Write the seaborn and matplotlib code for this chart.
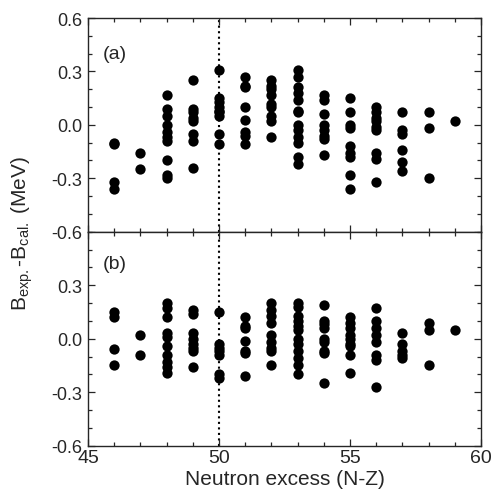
import pandas as pd
import matplotlib
matplotlib.use("Agg")
import matplotlib.pyplot as plt
import seaborn as sns
from matplotlib.ticker import MultipleLocator, FuncFormatter

# panel (a): B_exp - B_cal per neutron excess
dev_a = {
    46: [-0.10, -0.11, -0.32, -0.36],
    47: [-0.16, -0.25],
    48: [0.17, 0.09, 0.05, 0.00, -0.04, -0.07, -0.09, -0.20, -0.28, -0.30],
    49: [0.25, 0.09, 0.07, 0.04, 0.02, -0.05, -0.09, -0.24],
    50: [0.31, 0.15, 0.13, 0.10, 0.08, 0.07, 0.05, -0.05, -0.11],
    51: [0.27, 0.22, 0.21, 0.10, 0.03, -0.04, -0.06, -0.11],
    52: [0.25, 0.22, 0.20, 0.17, 0.12, 0.10, 0.05, 0.02, -0.07],
    53: [0.31, 0.27, 0.21, 0.18, 0.14, 0.08, 0.07, 0.00, -0.03, -0.07, -0.10, -0.18, -0.22],
    54: [0.17, 0.14, 0.06, 0.00, -0.03, -0.06, -0.08, -0.17],
    55: [0.15, 0.07, 0.00, -0.02, -0.12, -0.16, -0.18, -0.28, -0.36],
    56: [0.10, 0.07, 0.04, 0.02, -0.01, -0.03, -0.16, -0.19, -0.32],
    57: [0.07, -0.03, -0.05, -0.14, -0.21, -0.26],
    58: [0.07, -0.02, -0.30],
    59: [0.02],
}

# panel (b)
dev_b = {
    46: [0.15, 0.12, -0.06, -0.15],
    47: [0.02, -0.09],
    48: [0.20, 0.17, 0.12, 0.03, 0.01, -0.04, -0.09, -0.13, -0.16, -0.19],
    49: [0.16, 0.14, 0.03, 0.00, -0.03, -0.05, -0.07, -0.16],
    50: [0.15, -0.03, -0.05, -0.07, -0.09, -0.20, -0.22],
    51: [0.12, 0.07, 0.06, -0.01, -0.07, -0.08, -0.21],
    52: [0.20, 0.16, 0.13, 0.09, 0.02, -0.02, -0.05, -0.07, -0.15],
    53: [0.20, 0.18, 0.13, 0.10, 0.07, 0.05, 0.00, -0.03, -0.07, -0.11, -0.15, -0.20],
    54: [0.19, 0.10, 0.08, 0.06, 0.00, -0.02, -0.07, -0.08, -0.25],
    55: [0.12, 0.09, 0.06, 0.02, 0.00, -0.03, -0.04, -0.09, -0.19],
    56: [0.17, 0.10, 0.06, 0.02, -0.02, -0.09, -0.12, -0.27],
    57: [0.03, -0.03, -0.07, -0.09, -0.11],
    58: [0.09, 0.05, -0.15],
    59: [0.05],
}

panel_labels = ["(a)", "(b)"]
label_y = [0.835, 0.85]


def to_frame(d):
    rows = [(k, v) for k, vals in d.items() for v in vals]
    return pd.DataFrame(rows, columns=["nz", "dev"])


sns.set_style("ticks")
plt.rcParams["font.family"] = ["Liberation Sans", "DejaVu Sans"]
plt.rcParams["mathtext.fontset"] = "custom"
plt.rcParams["mathtext.rm"] = "Liberation Sans"
plt.rcParams["mathtext.it"] = "Liberation Sans"
plt.rcParams["mathtext.default"] = "regular"

fig = plt.figure(figsize=(4.93, 5.02), dpi=100)
ax_a = fig.add_axes([0.1785, 0.5365, 0.7972, 0.4255])
ax_b = fig.add_axes([0.1785, 0.1100, 0.7972, 0.4265], sharex=ax_a)

for ax, d, lab, ly in zip([ax_a, ax_b], [dev_a, dev_b], panel_labels, label_y):
    df = to_frame(d)
    sns.scatterplot(data=df, x="nz", y="dev", ax=ax, color="black",
                    s=55, edgecolor="black", linewidth=0, legend=False)
    ax.axvline(50, color="black", ls=":", lw=1.5, zorder=0)
    ax.set_xlim(45, 60)
    ax.set_ylim(-0.6, 0.6)
    ax.xaxis.set_major_locator(MultipleLocator(5))
    ax.xaxis.set_minor_locator(MultipleLocator(1))
    ax.yaxis.set_major_locator(MultipleLocator(0.3))
    ax.yaxis.set_minor_locator(MultipleLocator(0.1))
    ax.tick_params(which="both", direction="in", top=True, right=True, width=0.9)
    ax.tick_params(axis="y", labelsize=13, pad=4)
    ax.tick_params(axis="x", labelsize=14, pad=2.5)
    ax.tick_params(which="major", length=5)
    ax.tick_params(which="minor", length=3)
    for sp in ax.spines.values():
        sp.set_linewidth(1.0)
    ax.set_xlabel("")
    ax.set_ylabel("")
    ax.text(0.038, ly, lab, transform=ax.transAxes, fontsize=14, va="center")
    ax.yaxis.set_major_formatter(FuncFormatter(lambda v, p: f"{v:.1f}"))

ax_a.tick_params(labelbottom=False)
ax_b.set_yticks([-0.6, -0.3, 0.0, 0.3])
ax_b.set_xlabel("Neutron excess (N-Z)", fontsize=15, labelpad=2)
fig.text(0.045, 0.535, r"B$_{exp.}$-B$_{cal.}$ (MeV)", rotation=90,
         fontsize=15, ha="center", va="center")

fig.savefig("out.png", dpi=100)
